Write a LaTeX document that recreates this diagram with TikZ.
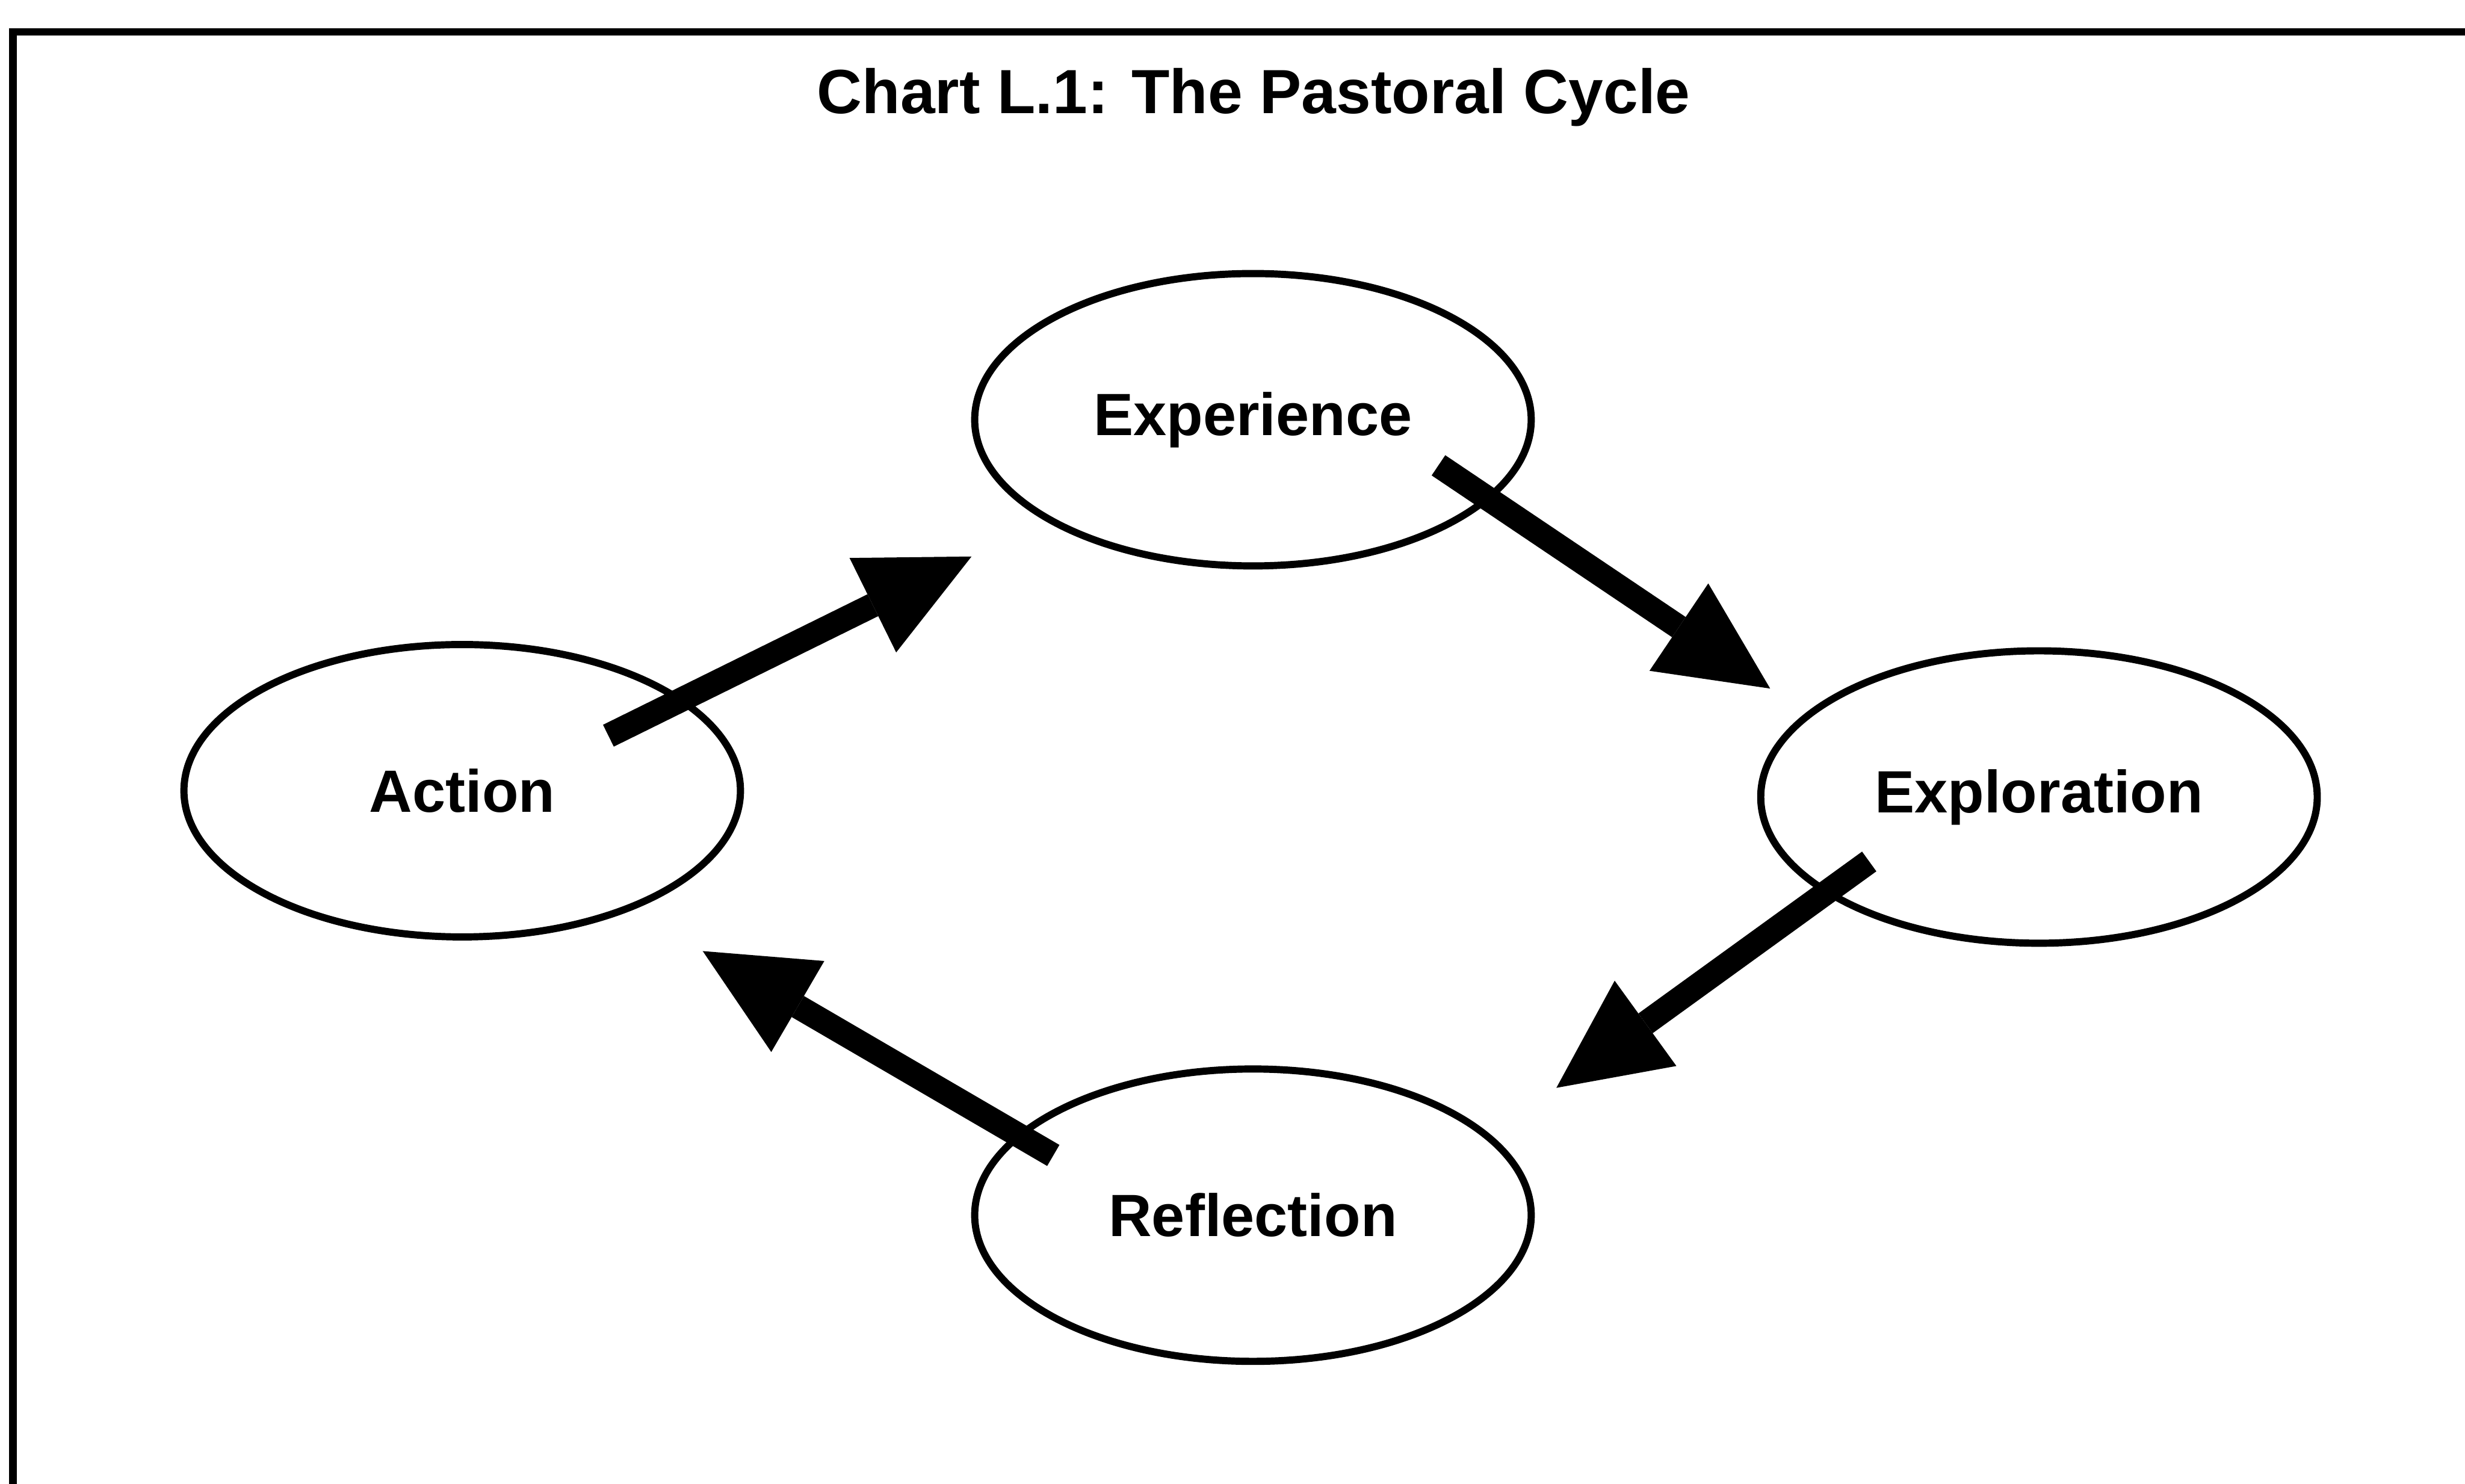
\documentclass[tikz,border=0pt]{standalone}
\usepackage{fontspec}
\setmainfont{Liberation Sans}
\usetikzlibrary{shapes.geometric,positioning,arrows.meta}

\begin{document}
\begin{tikzpicture}[node distance=5cm,on grid,
    stage/.style={draw,ellipse,line width=1.3pt,minimum width=3.54cm,minimum height=1.86cm,
      inner sep=0pt,font=\fontsize{10.8}{13}\selectfont\bfseries},
    flow/.style={-{Triangle[length=0.70cm,width=0.67cm,line width=0pt]},line width=0.155cm}]
  \useasboundingbox (0,0) rectangle (15.68,-9.44);
  \draw[line width=1.4pt] (0.083,-9.44) |- (15.68,-0.203);
  \node[font=\fontsize{11.3}{14}\selectfont\bfseries] (title) at (7.975,-0.62) {Chart L.1: The Pastoral Cycle};
  \node[stage] (q_exper) at (7.97,-2.67) {Experience};
  \node[stage] (q_action) [below left=2.36cm and 5.03cm of q_exper] {Action};
  \node[stage] (q_explor) [below right=2.40cm and 5.00cm of q_exper] {Exploration};
  \node[stage] (q_reflect) [below=5.06cm of q_exper] {Reflection};
  \path[flow]
    ([shift={(0.93,0.35)}]q_action.center) edge ([shift={(-1.79,-0.87)}]q_exper.center)
    ([shift={(1.18,-0.29)}]q_exper.center) edge ([shift={(-1.71,0.69)}]q_explor.center)
    ([shift={(-1.08,-0.41)}]q_explor.center) edge ([shift={(1.93,0.81)}]q_reflect.center)
    ([shift={(-1.27,0.38)}]q_reflect.center) edge ([shift={(1.53,-1.02)}]q_action.center)
    ; %end path
\end{tikzpicture}
\end{document}
